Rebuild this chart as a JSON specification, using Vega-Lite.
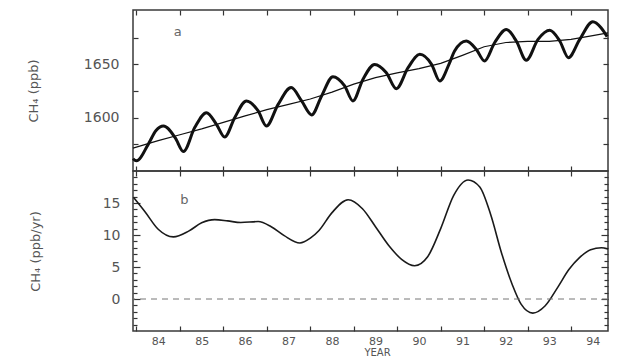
{
  "$schema": "https://vega.github.io/schema/vega-lite/v6.json",
  "padding": {"left": 26, "top": 8, "right": 5, "bottom": 0},
  "background": "white",
  "spacing": 0,
  "bounds": "flush",
  "config": {
    "view": {"stroke": "#3a3a3a", "strokeWidth": 1.5},
    "axis": {"domain": false, "grid": false, "labelFont": "DejaVu Sans", "labelFontSize": 14, "labelColor": "#555", "tickColor": "#333", "tickWidth": 1.2, "titleFont": "DejaVu Sans", "titleFontWeight": "normal", "titleColor": "#555", "titleFontSize": 13},
    "text": {"font": "DejaVu Sans"}
  },
  "datasets": {
    "season": [
      {"year": 1983.92, "ch4": 1561.5}, {"year": 1984.0, "ch4": 1559.5}, {"year": 1984.27, "ch4": 1575}, {"year": 1984.45, "ch4": 1588},
      {"year": 1984.62, "ch4": 1592.2}, {"year": 1984.89, "ch4": 1581.3}, {"year": 1985.08, "ch4": 1568.2}, {"year": 1985.34, "ch4": 1590.7},
      {"year": 1985.61, "ch4": 1604.7}, {"year": 1985.84, "ch4": 1593.8}, {"year": 1986.03, "ch4": 1581.9}, {"year": 1986.26, "ch4": 1600},
      {"year": 1986.53, "ch4": 1615.7}, {"year": 1986.8, "ch4": 1606.3}, {"year": 1986.99, "ch4": 1592.2}, {"year": 1987.26, "ch4": 1612.5},
      {"year": 1987.56, "ch4": 1628.2}, {"year": 1987.8, "ch4": 1615.7}, {"year": 1988.03, "ch4": 1602.6}, {"year": 1988.26, "ch4": 1620.4},
      {"year": 1988.52, "ch4": 1638.5}, {"year": 1988.79, "ch4": 1629.8}, {"year": 1988.98, "ch4": 1615.7}, {"year": 1989.21, "ch4": 1635.9},
      {"year": 1989.48, "ch4": 1650}, {"year": 1989.75, "ch4": 1642.2}, {"year": 1989.98, "ch4": 1627.2}, {"year": 1990.25, "ch4": 1646.9},
      {"year": 1990.52, "ch4": 1659.4}, {"year": 1990.79, "ch4": 1650}, {"year": 1990.98, "ch4": 1634.4}, {"year": 1991.2, "ch4": 1651},
      {"year": 1991.32, "ch4": 1662.5}, {"year": 1991.59, "ch4": 1671.9}, {"year": 1991.82, "ch4": 1664}, {"year": 1992.01, "ch4": 1653.2},
      {"year": 1992.24, "ch4": 1670.3}, {"year": 1992.51, "ch4": 1682.8}, {"year": 1992.74, "ch4": 1671.9}, {"year": 1992.97, "ch4": 1653.8},
      {"year": 1993.24, "ch4": 1673.4}, {"year": 1993.51, "ch4": 1681.9}, {"year": 1993.74, "ch4": 1671.9}, {"year": 1993.94, "ch4": 1656.3},
      {"year": 1994.2, "ch4": 1673.4}, {"year": 1994.5, "ch4": 1690}, {"year": 1994.69, "ch4": 1684.4}, {"year": 1994.83, "ch4": 1676}
    ],
    "trend": [
      {"year": 1983.92, "ch4": 1571.5}, {"year": 1984.5, "ch4": 1578.5}, {"year": 1985.0, "ch4": 1584}, {"year": 1985.5, "ch4": 1589.5},
      {"year": 1986.0, "ch4": 1595.6}, {"year": 1986.5, "ch4": 1601.7}, {"year": 1987.0, "ch4": 1607.5}, {"year": 1987.5, "ch4": 1612.5},
      {"year": 1988.0, "ch4": 1617.5}, {"year": 1988.5, "ch4": 1624}, {"year": 1989.0, "ch4": 1631.5}, {"year": 1989.5, "ch4": 1637.5},
      {"year": 1990.0, "ch4": 1642}, {"year": 1990.5, "ch4": 1646}, {"year": 1991.0, "ch4": 1651}, {"year": 1991.5, "ch4": 1658.5},
      {"year": 1992.0, "ch4": 1666.5}, {"year": 1992.5, "ch4": 1670.5}, {"year": 1993.0, "ch4": 1671.5}, {"year": 1993.5, "ch4": 1671.5},
      {"year": 1994.0, "ch4": 1673.5}, {"year": 1994.5, "ch4": 1677}, {"year": 1994.85, "ch4": 1679.5}
    ],
    "growth": [
      {"year": 1983.93, "rate": 15.9}, {"year": 1984.2, "rate": 13.6}, {"year": 1984.5, "rate": 10.9}, {"year": 1984.85, "rate": 9.7},
      {"year": 1985.2, "rate": 10.6}, {"year": 1985.5, "rate": 11.9}, {"year": 1985.8, "rate": 12.4}, {"year": 1986.1, "rate": 12.2},
      {"year": 1986.4, "rate": 11.95}, {"year": 1986.8, "rate": 12.1}, {"year": 1987.1, "rate": 11.3}, {"year": 1987.4, "rate": 9.9},
      {"year": 1987.76, "rate": 8.75}, {"year": 1988.0, "rate": 9.5}, {"year": 1988.2, "rate": 10.7}, {"year": 1988.5, "rate": 13.5},
      {"year": 1988.87, "rate": 15.5}, {"year": 1989.2, "rate": 14.1}, {"year": 1989.5, "rate": 11.3}, {"year": 1989.8, "rate": 8.4},
      {"year": 1990.1, "rate": 6.2}, {"year": 1990.4, "rate": 5.2}, {"year": 1990.7, "rate": 6.6}, {"year": 1991.0, "rate": 11.0},
      {"year": 1991.3, "rate": 16.2}, {"year": 1991.63, "rate": 18.6}, {"year": 1991.9, "rate": 17.5}, {"year": 1992.15, "rate": 13.2},
      {"year": 1992.4, "rate": 7.2}, {"year": 1992.65, "rate": 2.2}, {"year": 1992.85, "rate": -0.8}, {"year": 1993.12, "rate": -2.2},
      {"year": 1993.4, "rate": -1.1}, {"year": 1993.7, "rate": 1.9}, {"year": 1993.95, "rate": 4.6}, {"year": 1994.2, "rate": 6.5},
      {"year": 1994.45, "rate": 7.7}, {"year": 1994.7, "rate": 8.0}, {"year": 1994.85, "rate": 7.8}
    ]
  },
  "vconcat": [
    {
      "width": 475,
      "height": 161,
      "resolve": {"axis": {"x": "independent", "y": "independent"}},
      "layer": [
        {
          "data": {"name": "season"},
          "mark": {"type": "line", "color": "#111", "strokeWidth": 3, "interpolate": "monotone"},
          "encoding": {
            "x": {"field": "year", "type": "quantitative", "scale": {"domain": [1983.92, 1994.85], "nice": false, "zero": false},
                  "axis": {"orient": "bottom", "values": [1984, 1985, 1986, 1987, 1988, 1989, 1990, 1991, 1992, 1993, 1994], "labels": false, "tickSize": -5, "title": null}},
            "y": {"field": "ch4", "type": "quantitative", "scale": {"domain": [1550, 1701], "nice": false, "zero": false},
                  "axis": {"orient": "left", "values": [1575, 1600, 1625, 1650, 1675], "labelExpr": "datum.value == 1600 || datum.value == 1650 ? datum.label : ''", "format": "d", "tickSize": -5, "labelPadding": 19, "title": "CH₄ (ppb)", "titleX": -93}}
          }
        },
        {
          "data": {"name": "trend"},
          "mark": {"type": "line", "color": "#111", "strokeWidth": 1.2},
          "encoding": {
            "x": {"field": "year", "type": "quantitative", "axis": null},
            "y": {"field": "ch4", "type": "quantitative", "axis": null}
          }
        },
        {
          "data": {"name": "trend"},
          "mark": {"type": "line", "opacity": 0},
          "encoding": {
            "x": {"field": "year", "type": "quantitative", "axis": {"orient": "top", "values": [1984, 1985, 1986, 1987, 1988, 1989, 1990, 1991, 1992, 1993, 1994], "labels": false, "tickSize": -5, "title": null}},
            "y": {"field": "ch4", "type": "quantitative", "axis": {"orient": "right", "values": [1575, 1600, 1625, 1650, 1675], "labels": false, "tickSize": -5, "title": null}}
          }
        },
        {
          "data": {"values": [{}]},
          "mark": {"type": "text", "text": "a", "fontSize": 13, "color": "#666"},
          "encoding": {
            "x": {"datum": 1984.95, "type": "quantitative", "axis": null},
            "y": {"datum": 1680, "type": "quantitative", "axis": null}
          }
        }
      ]
    },
    {
      "width": 475,
      "height": 160,
      "resolve": {"axis": {"x": "independent", "y": "independent"}},
      "layer": [
        {
          "data": {"name": "growth"},
          "mark": {"type": "line", "color": "#1a1a1a", "strokeWidth": 1.6, "interpolate": "monotone"},
          "encoding": {
            "x": {"field": "year", "type": "quantitative", "scale": {"domain": [1983.92, 1994.85], "nice": false, "zero": false},
                  "axis": {"orient": "bottom", "values": [1984, 1985, 1986, 1987, 1988, 1989, 1990, 1991, 1992, 1993, 1994], "labelExpr": "substring(toString(datum.value), 2, 4)", "labelOffset": 21.7, "tickSize": -5, "labelPadding": 9, "labelFontSize": 11, "title": "YEAR", "titleFontSize": 10, "titlePadding": 1, "titleX": 244}},
            "y": {"field": "rate", "type": "quantitative", "scale": {"domain": [-5, 20], "nice": false, "zero": false},
                  "axis": {"orient": "left", "values": [-4, -3, -2, -1, 0, 1, 2, 3, 4, 5, 6, 7, 8, 9, 10, 11, 12, 13, 14, 15, 16, 17, 18, 19], "labelExpr": "datum.value % 5 == 0 ? datum.label : ''", "tickSize": {"condition": {"test": "datum.value % 5 == 0", "value": -7}, "value": -4}, "labelPadding": 20, "title": "CH₄ (ppb/yr)", "titleX": -91}}
          }
        },
        {
          "data": {"values": [{}]},
          "mark": {"type": "rule", "color": "#777", "strokeWidth": 1, "strokeDash": [6, 5]},
          "encoding": {"y": {"datum": 0, "type": "quantitative", "axis": null}}
        },
        {
          "data": {"name": "growth"},
          "mark": {"type": "line", "opacity": 0},
          "encoding": {
            "x": {"field": "year", "type": "quantitative", "axis": {"orient": "top", "values": [1984, 1985, 1986, 1987, 1988, 1989, 1990, 1991, 1992, 1993, 1994], "labels": false, "tickSize": -5, "title": null}},
            "y": {"field": "rate", "type": "quantitative", "axis": {"orient": "right", "values": [-4, -3, -2, -1, 0, 1, 2, 3, 4, 5, 6, 7, 8, 9, 10, 11, 12, 13, 14, 15, 16, 17, 18, 19], "labels": false, "tickSize": {"condition": {"test": "datum.value % 5 == 0", "value": -7}, "value": -4}, "title": null}}
          }
        },
        {
          "data": {"values": [{}]},
          "mark": {"type": "text", "text": "b", "fontSize": 13, "color": "#666"},
          "encoding": {
            "x": {"datum": 1985.1, "type": "quantitative", "axis": null},
            "y": {"datum": 15.5, "type": "quantitative", "axis": null}
          }
        }
      ]
    }
  ]
}
